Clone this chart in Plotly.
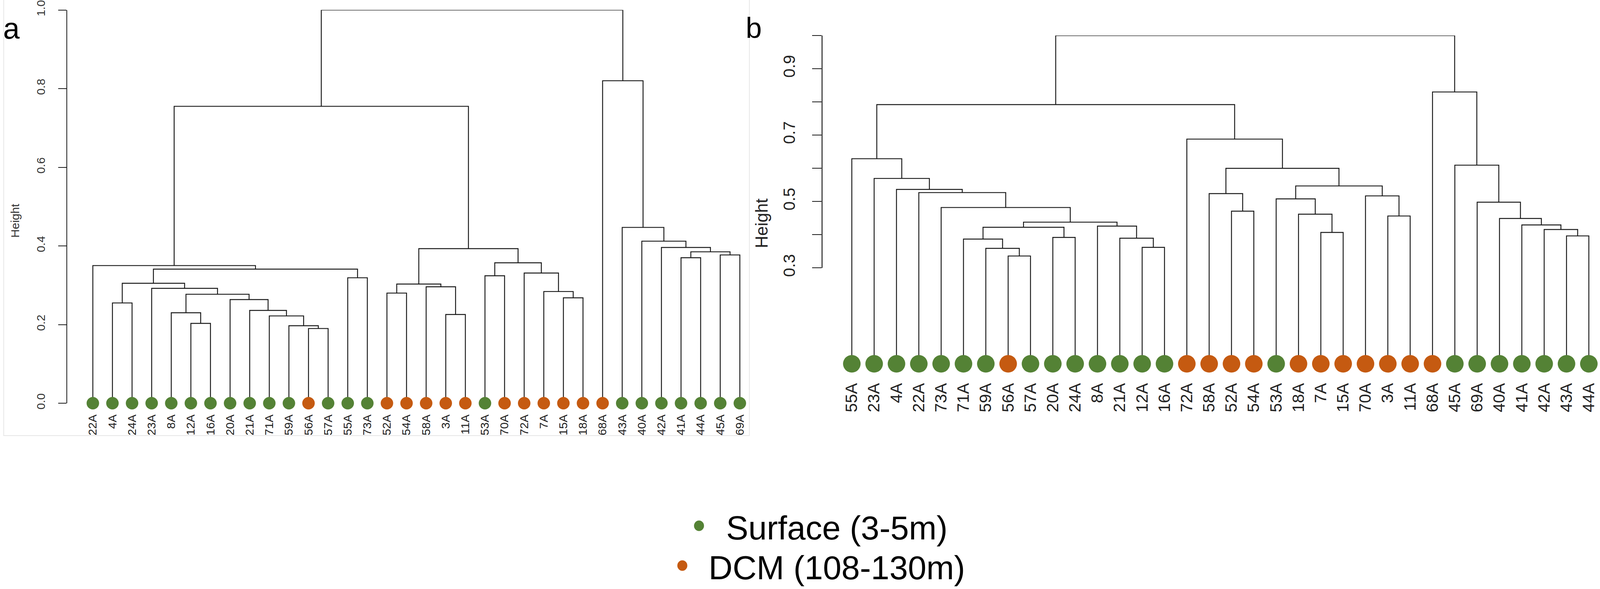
import plotly.graph_objects as go

# ---------------- data ----------------
# sample depth class (same samples in both panels)
dcm_samples = ["56A", "52A", "54A", "58A", "3A", "11A", "70A", "72A", "7A", "15A", "18A", "68A"]

# panel a: leaf order and merges (children: leaf name or index of an earlier merge)
a_leaves = ["22A", "4A", "24A", "23A", "8A", "12A", "16A", "20A", "21A", "71A", "59A", "56A",
            "57A", "55A", "73A", "52A", "54A", "58A", "3A", "11A", "53A", "70A", "72A", "7A",
            "15A", "18A", "68A", "43A", "40A", "42A", "41A", "44A", "45A", "69A"]
a_merge_left = ["12A", "8A", "56A", "59A", "71A", "21A", "20A", 1, "23A", "4A", 9, "55A", 10,
                "22A", "52A", "3A", "58A", 14, "53A", "15A", "7A", "72A", 18, 17, 13,
                "41A", "45A", 25, "42A", "40A", "43A", "68A", 24]
a_merge_right = ["16A", 0, "57A", 2, 3, 4, 5, 6, 7, "24A", 8, "73A", 11,
                 12, "54A", "11A", 15, 16, "70A", "18A", 19, 20, 21, 22, 23,
                 "44A", "69A", 26, 27, 28, 29, 30, 31]
a_merge_height = [0.203, 0.230, 0.190, 0.197, 0.222, 0.236, 0.2635, 0.277, 0.292, 0.255, 0.305,
                  0.319, 0.341, 0.350, 0.280, 0.2255, 0.296, 0.303, 0.324, 0.268, 0.284, 0.331,
                  0.357, 0.393, 0.755, 0.370, 0.377, 0.385, 0.396, 0.412, 0.447, 0.820, 1.0]
a_leaf_height = 0.0
a_yticks = [0.0, 0.2, 0.4, 0.6, 0.8, 1.0]

# panel b
b_leaves = ["55A", "23A", "4A", "22A", "73A", "71A", "59A", "56A", "57A", "20A", "24A", "8A",
            "21A", "12A", "16A", "72A", "58A", "52A", "54A", "53A", "18A", "7A", "15A", "70A",
            "3A", "11A", "68A", "45A", "69A", "40A", "41A", "42A", "43A", "44A"]
b_merge_left = ["56A", "59A", "71A", "20A", 2, "12A", "21A", "8A", 4, "73A", "22A", "4A", "23A",
                "55A", "52A", "58A", "7A", "18A", "53A", "3A", "70A", 18, 15, "72A", 13,
                "43A", "42A", "41A", "40A", "69A", "45A", "68A", 24]
b_merge_right = ["57A", 0, 1, "24A", 3, "16A", 5, 6, 7, 8, 9, 10, 11,
                 12, "54A", 14, "15A", 16, 17, "11A", 19, 20, 21, 22, 23,
                 "44A", 25, 26, 27, 28, 29, 30, 31]
b_merge_height = [0.336, 0.359, 0.387, 0.392, 0.4226, 0.362, 0.3896, 0.426, 0.438, 0.482, 0.527,
                  0.5365, 0.5696, 0.629, 0.471, 0.524, 0.407, 0.462, 0.508, 0.4565, 0.517, 0.547,
                  0.600, 0.688, 0.792, 0.3965, 0.4157, 0.4296, 0.449, 0.498, 0.6096, 0.830, 1.0]
b_leaf_height = 0.0114
b_yticks = [0.3, 0.4, 0.5, 0.6, 0.7, 0.8, 0.9, 1.0]
b_ytick_labels = ["0.3", "", "0.5", "", "0.7", "", "0.9", ""]

legend_labels = ["Surface (3-5m)", "DCM (108-130m)"]

# ---------------- style ----------------
# reference frame in pixels; everything is placed as fractions of it
W, H = 4317, 1509
GREEN = "#548235"
ORANGE = "#C55A11"
LINE = "#1a1a1a"
FONT = "Liberation Sans, Arial, sans-serif"


def px(x):
    return x / W


def py(y):
    return 1 - y / H


def dendro_segments(leaves, left, right, heights, base):
    pos = {n: i for i, n in enumerate(leaves)}
    nx, nh = [], []
    xs, ys = [], []

    def child(c):
        if isinstance(c, str):
            return pos[c], base
        return nx[c], nh[c]

    for c1, c2, h in zip(left, right, heights):
        x1, h1 = child(c1)
        x2, h2 = child(c2)
        xs += [x1, x1, x2, x2, None]
        ys += [h1, h, h, h2, None]
        nx.append((x1 + x2) / 2)
        nh.append(h)
    return xs, ys


fig = go.Figure()

for leaves, L, R, Hs, base, xa, ya, msize in [
    (a_leaves, a_merge_left, a_merge_right, a_merge_height, a_leaf_height, "x", "y", 32),
    (b_leaves, b_merge_left, b_merge_right, b_merge_height, b_leaf_height, "x2", "y2", 45),
]:
    xs, ys = dendro_segments(leaves, L, R, Hs, base)
    fig.add_trace(go.Scatter(x=xs, y=ys, mode="lines", xaxis=xa, yaxis=ya,
                             line=dict(color=LINE, width=2.4), hoverinfo="skip",
                             showlegend=False))
    cols = [ORANGE if n in dcm_samples else GREEN for n in leaves]
    fig.add_trace(go.Scatter(x=list(range(len(leaves))), y=[base] * len(leaves),
                             mode="markers", xaxis=xa, yaxis=ya, cliponaxis=False,
                             marker=dict(color=cols, size=msize, line=dict(width=0)),
                             text=leaves, hoverinfo="text", showlegend=False))

# ---------------- geometry (reference pixels) ----------------
a_axis_x, a_leaf0, a_step = 181, 250.5, 52.9
a_right = 2022
a_y0px, a_y1px = 1033, 25.5
b_axis_x, b_leaf0, b_step = 2218, 2298.3, 60.26
b_top_px, b_unit_px = 91, 850.7
b_bottom_px = b_top_px + (1 - b_leaf_height) * b_unit_px

axis_common = dict(showgrid=False, zeroline=False, fixedrange=True, automargin=False)

fig.update_layout(
    template="none",
    margin=dict(l=0, r=0, t=0, b=0, pad=0), autosize=True,
    paper_bgcolor="white", plot_bgcolor="white",
    font=dict(family=FONT, color="#222"),
    showlegend=False,
    xaxis=dict(domain=[px(a_axis_x), px(a_right)],
               range=[(a_axis_x - a_leaf0) / a_step, (a_right - a_leaf0) / a_step],
               anchor="y", tickmode="array", tickvals=list(range(len(a_leaves))),
               ticktext=a_leaves, tickangle=-90, ticks="", showline=False,
               tickfont=dict(size=30, color="#222"), ticklabelstandoff=22, **axis_common),
    yaxis=dict(domain=[py(a_y0px), py(a_y1px)], range=[0, 1], anchor="x",
               tickmode="array", tickvals=a_yticks, ticktext=[f"{v:.1f}" for v in a_yticks],
               tickangle=-90, ticks="outside", ticklen=21, tickwidth=2.4, tickcolor=LINE,
               showline=True, linecolor=LINE, linewidth=2.4,
               tickfont=dict(size=30, color="#333"), ticklabelstandoff=22, **axis_common),
    xaxis2=dict(domain=[px(b_axis_x), 1.0],
                range=[(b_axis_x - b_leaf0) / b_step, (W - b_leaf0) / b_step],
                anchor="y2", tickmode="array", tickvals=list(range(len(b_leaves))),
                ticktext=b_leaves, tickangle=-90, ticks="", showline=False,
                tickfont=dict(size=42, color="#222"), ticklabelstandoff=40, **axis_common),
    yaxis2=dict(domain=[py(b_bottom_px), py(b_top_px)], range=[b_leaf_height, 1.0],
                anchor="x2", tickmode="array", tickvals=b_yticks, ticktext=b_ytick_labels,
                tickangle=-90, ticks="outside", ticklen=24, tickwidth=2.4, tickcolor=LINE,
                showline=False, tickfont=dict(size=42, color="#222"), ticklabelstandoff=28,
                **axis_common),
)

shapes = [
    # light frame around panel a
    dict(type="rect", xref="paper", yref="paper", x0=px(10), x1=px(a_right), y0=py(1116), y1=py(-6),
         line=dict(color="#e6e6e6", width=2), layer="below"),
    # panel b axis line only over the tick range
    dict(type="line", xref="paper", yref="y2", x0=px(b_axis_x), x1=px(b_axis_x),
         y0=b_yticks[0], y1=b_yticks[-1], line=dict(color=LINE, width=2.4)),
]
# legend keys
r = 13.5
for (cx, cy), col in zip([(1886, 1347), (1841, 1449)], [GREEN, ORANGE]):
    shapes.append(dict(type="circle", xref="paper", yref="paper",
                       x0=px(cx - r), x1=px(cx + r), y0=py(cy + r), y1=py(cy - r),
                       fillcolor=col, line=dict(width=0)))
fig.update_layout(shapes=shapes)

ann = [
    dict(text="a", x=px(6), y=py(73), xanchor="left", font=dict(size=76, color="black")),
    dict(text="b", x=px(2034), y=py(71), font=dict(size=74, color="black")),
    dict(text="Height", x=px(40), y=py(565), textangle=-90, font=dict(size=30, color="#333")),
    dict(text="Height", x=px(2055), y=py(572), textangle=-90, font=dict(size=44, color="#222")),
    dict(text=legend_labels[0], x=px(2258), y=py(1352), font=dict(size=85, color="black")),
    dict(text=legend_labels[1], x=px(2258), y=py(1454), font=dict(size=85, color="black")),
]
for a in ann:
    a.setdefault("xanchor", "center")
    a.update(xref="paper", yref="paper", showarrow=False, yanchor="middle")
fig.update_layout(annotations=ann)

# fill the browser window exactly (no body margin), so nothing is cut off
post = """
var gd = document.querySelector('.plotly-graph-div');
document.documentElement.style.margin = '0';
document.body.style.margin = '0';
document.body.style.overflow = 'hidden';
return Plotly.Plots.resize(gd);
"""

fig.write_html("out.html", default_width="100vw", default_height="100vh",
               config={"displayModeBar": False, "responsive": True}, post_script=post)
